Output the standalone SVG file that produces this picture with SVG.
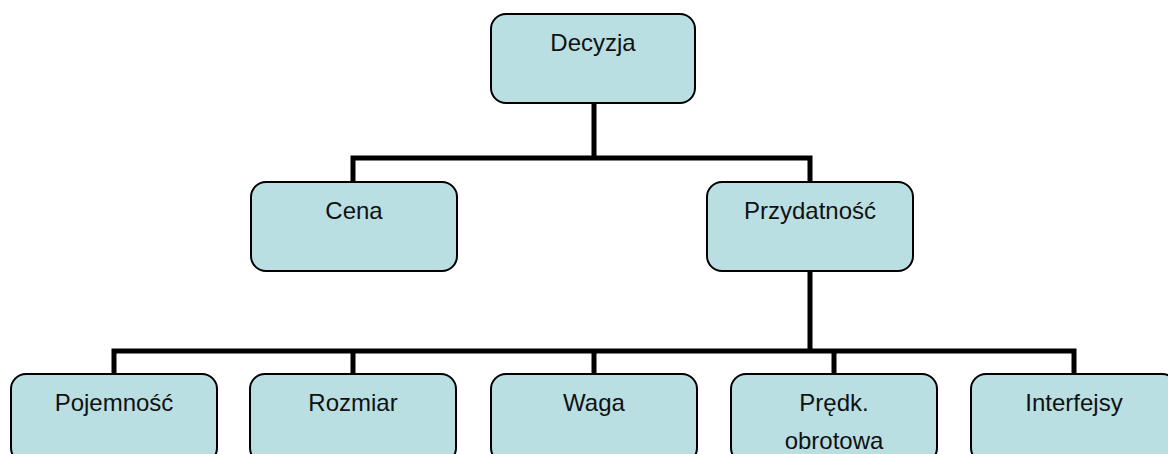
<svg xmlns="http://www.w3.org/2000/svg" width="1168" height="454" viewBox="0 0 1168 454">
<style>
.box{fill:#b9dfe3;stroke:#000;stroke-width:2}
.lbl{font-family:"Liberation Sans",Arial,sans-serif;font-size:24px;fill:#111;text-anchor:middle}
.conn{fill:none;stroke:#000;stroke-width:5;stroke-linejoin:miter}
</style>
<rect width="1168" height="454" fill="#fff"/>
<g id="connectors">
<path class="conn" d="M594,103 V158 M353,182 V158 H810 V182 M810,271 V351 M114,374 V351 H1074 V374 M353,351 V374 M594,351 V374 M834,351 V374"/>
</g>
<g id="decyzja"><rect class="box" x="491" y="14" width="204" height="89" rx="15"/><text class="lbl" x="593" y="51">Decyzja</text></g>
<g id="cena"><rect class="box" x="251" y="182" width="206" height="89" rx="15"/><text class="lbl" x="354" y="219">Cena</text></g>
<g id="przydatnosc"><rect class="box" x="707" y="182" width="206" height="89" rx="15"/><text class="lbl" x="810" y="219">Przydatność</text></g>
<g id="pojemnosc"><rect class="box" x="11" y="374" width="206" height="89" rx="15"/><text class="lbl" x="114" y="411">Pojemność</text></g>
<g id="rozmiar"><rect class="box" x="250" y="374" width="206" height="89" rx="15"/><text class="lbl" x="353" y="411">Rozmiar</text></g>
<g id="waga"><rect class="box" x="491" y="374" width="206" height="89" rx="15"/><text class="lbl" x="594" y="411">Waga</text></g>
<g id="predk"><rect class="box" x="731" y="374" width="206" height="89" rx="15"/><text class="lbl" x="834" y="411">Prędk.</text><text class="lbl" x="834" y="449">obrotowa</text></g>
<g id="interfejsy"><rect class="box" x="971" y="374" width="206" height="89" rx="15"/><text class="lbl" x="1074" y="411">Interfejsy</text></g>
</svg>
